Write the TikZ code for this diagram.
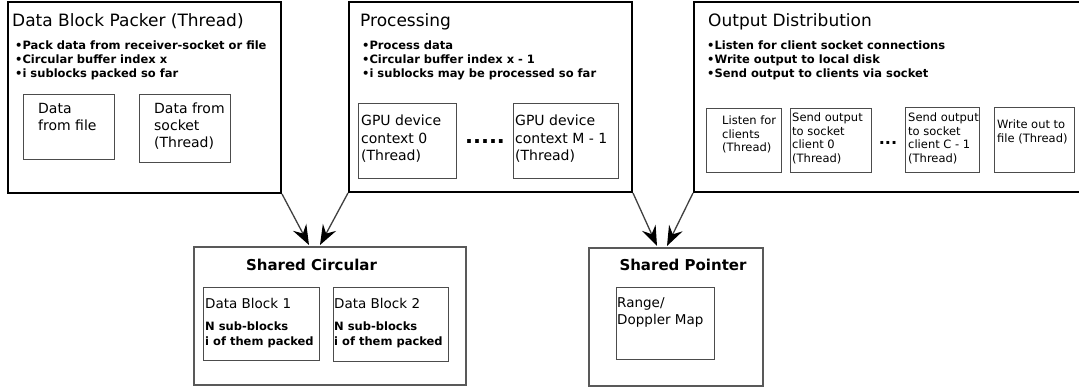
\documentclass[tikz,border=0pt]{standalone}
\usepackage{fontspec}
\setmainfont{DejaVu Sans}
\usetikzlibrary{arrows.meta,positioning}

\begin{document}
\begin{tikzpicture}[
  x=1pt, y=-1pt,
  outer/.style={draw, line width=2pt, anchor=north west, inner sep=0pt},
  shared/.style={draw=black!65, line width=1.8pt, anchor=north west, inner sep=0pt},
  inbox/.style={draw=black!70, line width=1.3pt, anchor=north west, inner sep=0pt},
  title/.style={font=\fontsize{17}{20}\selectfont, inner sep=0pt},
  stitle/.style={font=\fontsize{15}{18}\selectfont\bfseries, anchor=base, inner sep=0pt},
  bullets/.style={font=\fontsize{11.5}{14}\selectfont\bfseries, align=left, inner sep=0pt},
  txt/.style={align=left, inner sep=0pt},
  dots/.style={font=\bfseries, anchor=base, inner sep=0pt},
  arr/.style={-{Stealth[length=20pt, width=15pt, inset=7pt, black]}, draw=black!75, line width=1.3pt}
]
  \useasboundingbox (0,0) rectangle (1079,388);

  % top row
  \node[outer, minimum width=273, minimum height=191] (packer) at (7,1) {};
  \node[outer, minimum width=283, minimum height=190] (proc) at (348,1) {};
  \node[outer, minimum width=392, minimum height=190] (outd) at (693,1) {};

  \node[title, below right=12pt and 5pt of packer.north west] (packertitle) {Data Block Packer (Thread)};
  \node[bullets, below right=39.5pt and 8pt of packer.north west] (packerlist)
    {•Pack data from receiver-socket or file\\•Circular buffer index x\\•i sublocks packed so far};
  \node[inbox, minimum width=91, minimum height=65] (file) at (23,94) {};
  \node[inbox, minimum width=91, minimum height=68] (sock) at (139,94) {};
  \node[txt, font=\fontsize{14}{17}\selectfont, below right=9pt and 15pt of file.north west] (filetext) {Data\\from file};
  \node[txt, font=\fontsize{14}{17}\selectfont, below right=9pt and 15pt of sock.north west] (socktext) {Data from\\socket\\(Thread)};

  \node[title, below right=12pt and 12pt of proc.north west] (proctitle) {Processing};
  \node[bullets, below right=39.5pt and 14pt of proc.north west] (proclist)
    {•Process data\\•Circular buffer index x - 1\\•i sublocks may be processed so far};
  \node[inbox, minimum width=98, minimum height=75] (gpu0) at (358,103) {};
  \node[inbox, minimum width=105, minimum height=75] (gpum) at (513,103) {};
  \node[txt, font=\fontsize{14}{17.5}\selectfont, below right=12pt and 3pt of gpu0.north west] (gpu0text) {GPU device\\context 0\\(Thread)};
  \node[txt, font=\fontsize{14}{17.5}\selectfont, below right=12pt and 2pt of gpum.north west] (gpumtext) {GPU device\\context M - 1\\(Thread)};
  \node[dots, font=\fontsize{21}{21}\selectfont\bfseries] (gpudots) at (485,143) {.....};

  \node[title, below right=12pt and 15pt of outd.north west] (outdtitle) {Output Distribution};
  \node[bullets, below right=40pt and 14pt of outd.north west] (outdlist)
    {•Listen for client socket connections\\•Write output to local disk\\•Send output to clients via socket};
  \node[inbox, minimum width=75, minimum height=64] (listen) at (706,108) {};
  \node[inbox, minimum width=81, minimum height=64] (send0) at (790,108) {};
  \node[inbox, minimum width=74, minimum height=65] (sendc) at (905,107) {};
  \node[inbox, minimum width=80, minimum height=65] (wrfile) at (994,107) {};
  \node[txt, font=\fontsize{11.5}{13.5}\selectfont, below right=8pt and 16pt of listen.north west] (listentext) {Listen for\\clients\\(Thread)};
  \node[txt, font=\fontsize{11.5}{13.5}\selectfont, below right=5pt and 2pt of send0.north west] (send0text) {Send output\\to socket\\client 0\\(Thread)};
  \node[txt, font=\fontsize{11.5}{13.5}\selectfont, below right=6pt and 3pt of sendc.north west] (sendctext) {Send output\\to socket\\client C - 1\\(Thread)};
  \node[txt, font=\fontsize{11.5}{13.5}\selectfont, below right=13pt and 3pt of wrfile.north west] (wrfiletext) {Write out to\\file (Thread)};
  \node[dots, font=\fontsize{16}{16}\selectfont\bfseries] (outdots) at (888,144) {...};

  % shared memory
  \node[shared, minimum width=272, minimum height=138] (circ) at (193,246) {};
  \node[stitle] (circtitle) at ([shift={(118.5,24)}]circ.north west) {Shared Circular};
  \node[inbox, minimum width=116, minimum height=73] (blk1) at (203,287) {};
  \node[inbox, minimum width=115, minimum height=74] (blk2) at (333,287) {};
  \node[txt, font=\fontsize{13.5}{16}\selectfont, below right=11pt and 2pt of blk1.north west] (blk1head) {Data Block 1};
  \node[txt, font=\fontsize{11.5}{15}\selectfont\bfseries, below right=35pt and 2pt of blk1.north west] (blk1text) {N sub-blocks\\i of them packed};
  \node[txt, font=\fontsize{13.5}{16}\selectfont, below right=11pt and 1pt of blk2.north west] (blk2head) {Data Block 2};
  \node[txt, font=\fontsize{11.5}{15}\selectfont\bfseries, below right=35pt and 1pt of blk2.north west] (blk2text) {N sub-blocks\\i of them packed};

  \node[shared, minimum width=174, minimum height=138] (ptr) at (588,247) {};
  \node[stitle] (ptrtitle) at ([shift={(95,23)}]ptr.north west) {Shared Pointer};
  \node[inbox, minimum width=98, minimum height=72] (rdmap) at (616,287) {};
  \node[txt, font=\fontsize{13.5}{17}\selectfont, below right=10pt and 1pt of rdmap.north west] (rdmaptext) {Range/\\Doppler Map};

  \coordinate (circin1) at (309,245);
  \coordinate (circin2) at (320,245);
  \coordinate (ptrin1) at (657,246);
  \coordinate (ptrin2) at (667,246);

  \draw[arr] (packer.south east) -- (circin1);
  \draw[arr] (proc.south west) -- (circin2);
  \draw[arr] (proc.south east) -- (ptrin1);
  \draw[arr] (outd.south west) -- (ptrin2);
\end{tikzpicture}
\end{document}
